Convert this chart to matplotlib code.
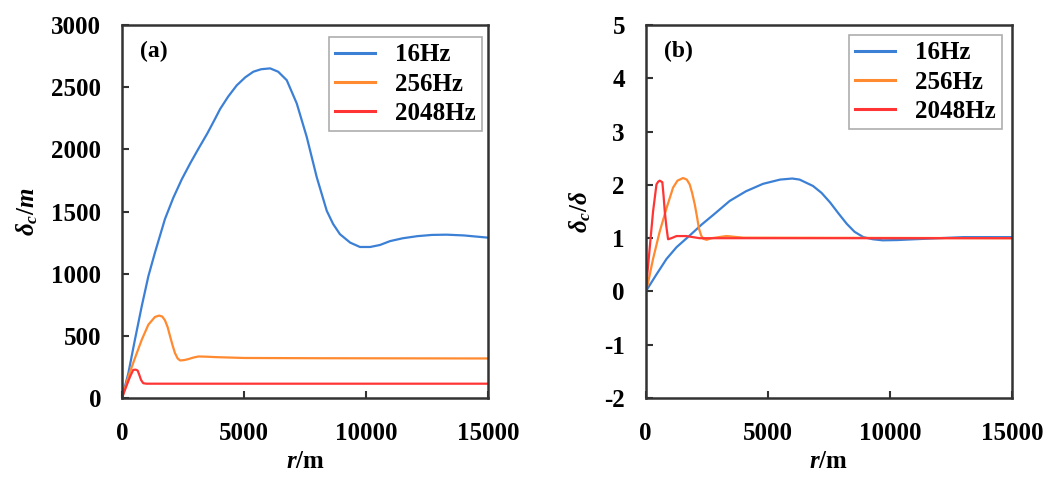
import matplotlib
matplotlib.use("Agg")
import matplotlib.pyplot as plt

plt.rcParams['font.family'] = ['Liberation Serif', 'DejaVu Serif']
plt.rcParams['font.weight'] = 'bold'
plt.rcParams['mathtext.fontset'] = 'custom'
plt.rcParams['mathtext.it'] = 'Liberation Serif:italic:bold'
plt.rcParams['mathtext.rm'] = 'Liberation Serif:bold'
plt.rcParams['mathtext.bf'] = 'Liberation Serif:bold'
plt.rcParams['axes.unicode_minus'] = False

labels = ['16Hz', '256Hz', '2048Hz']
colors = ['#3c80d6', '#ff8a30', '#ff3535']

# Panel (a): delta_c in m
r16_a = [0, 260, 530, 810, 1080, 1350, 1760, 2100, 2450, 2800, 3130, 3500, 3810, 4020,
         4350, 4700, 5050, 5380, 5700, 6070, 6400, 6750, 7160, 7570, 7980, 8390, 8650,
         8930, 9350, 9750, 10170, 10570, 10980, 11500, 12100, 12700, 13300, 14000, 15000]
v16_a = [0, 200, 470, 740, 980, 1170, 1440, 1610, 1760, 1890, 2005, 2130, 2245, 2325,
         2425, 2515, 2580, 2625, 2645, 2652, 2625, 2557, 2370, 2100, 1776, 1506, 1400,
         1318, 1250, 1215, 1215, 1231, 1262, 1285, 1302, 1312, 1314, 1308, 1290]
r256_a = [0, 260, 530, 810, 1080, 1350, 1520, 1650, 1760, 1870, 1970, 2070, 2170, 2280,
          2380, 2550, 2720, 2920, 3130, 3500, 3810, 5000, 8000, 15000]
v256_a = [0, 172, 321, 469, 590, 652, 663, 655, 625, 570, 496, 425, 361, 318,
          302, 305, 313, 325, 334, 332, 329, 322, 320, 318]
r2048_a = [0, 120, 330, 460, 560, 640, 710, 780, 870, 1000, 15000]
v2048_a = [0, 65, 172, 226, 228, 221, 185, 145, 119, 115, 115]

# Panel (b): delta_c / delta
r16_b = [0, 440, 850, 1260, 1800, 2300, 2800, 3440, 4100, 4800, 5500, 6000, 6300, 6850,
         7200, 7550, 7900, 8230, 8550, 8910, 9300, 9700, 10300, 11000, 12000, 13000,
         14000, 15000]
v16_b = [0, 0.32, 0.61, 0.83, 1.05, 1.26, 1.45, 1.70, 1.88, 2.02, 2.10, 2.12, 2.10, 1.98,
         1.85, 1.67, 1.46, 1.27, 1.12, 1.02, 0.98, 0.96, 0.965, 0.98, 1.0, 1.02,
         1.02, 1.02]
r256_b = [0, 95, 300, 570, 850, 1120, 1300, 1530, 1680, 1800, 1900, 2010, 2100, 2180,
          2270, 2350, 2490, 2700, 3300, 4000, 15000]
v256_b = [0, 0.16, 0.61, 1.12, 1.56, 1.95, 2.08, 2.13, 2.10, 2.01, 1.85, 1.63, 1.40, 1.18,
          1.05, 0.99, 0.97, 1.0, 1.04, 1.01, 1.0]
r2048_b = [0, 150, 300, 440, 510, 575, 680, 730, 780, 850, 915, 1050, 1260, 1660, 2200, 15000]
v2048_b = [0, 0.75, 1.5, 2.01, 2.06, 2.08, 2.05, 1.8, 1.5, 1.2, 0.98, 1.0, 1.04, 1.04, 1.0, 1.0]

fig = plt.figure(figsize=(10.61, 4.83), dpi=100)
ax1 = fig.add_axes([0.115, 0.176, 0.345, 0.772])
ax2 = fig.add_axes([0.6086, 0.176, 0.3453, 0.772])

fs = 18

def style(ax, ylim, yticks, ylabel, tag, anchor):
    ax.set_xlim(0, 15000)
    ax.set_ylim(*ylim)
    ax.set_xticks([0, 5000, 10000, 15000])
    ax.set_yticks(yticks)
    ax.tick_params(direction='in', length=5, width=1.5, labelsize=fs, color='#333333')
    ax.tick_params(axis='y', pad=15)
    ax.tick_params(axis='x', pad=17)
    for lab in ax.get_xticklabels() + ax.get_yticklabels():
        lab.set_fontweight('bold')
    for sp in ax.spines.values():
        sp.set_linewidth(1.8)
        sp.set_color('#333333')
    ax.set_xlabel(r'$r$/m', fontsize=fs, fontweight='bold', labelpad=4)
    ax.set_ylabel(ylabel, fontsize=fs, fontweight='bold', labelpad=8)
    ax.text(0.05, 0.93, tag, transform=ax.transAxes, fontsize=17, fontweight='bold',
            va='center', ha='left')
    leg = ax.legend(loc='upper right', bbox_to_anchor=anchor, fontsize=fs, frameon=True,
                    fancybox=False, edgecolor='#999999', handlelength=1.6,
                    borderpad=0.25, labelspacing=0.25, handletextpad=0.8,
                    borderaxespad=0.0, prop={'weight': 'bold', 'size': fs})
    leg.get_frame().set_linewidth(1.2)
    for h in leg.get_lines():
        h.set_linewidth(2.2)

for r, v, lab, c in zip([r16_a, r256_a, r2048_a], [v16_a, v256_a, v2048_a], labels, colors):
    ax1.plot(r, v, color=c, lw=1.6, label=lab)
for r, v, lab, c in zip([r16_b, r256_b, r2048_b], [v16_b, v256_b, v2048_b], labels, colors):
    ax2.plot(r, v, color=c, lw=1.6, label=lab)

style(ax1, (0, 3000), [0, 500, 1000, 1500, 2000, 2500, 3000], r'$\delta_c$/$m$', '(a)',
      (0.984, 0.968))
style(ax2, (-2, 5), [-2, -1, 0, 1, 2, 3, 4, 5], r'$\delta_c$/$\delta$', '(b)',
      (0.972, 0.973))

fig.savefig('out.png', dpi=100)
